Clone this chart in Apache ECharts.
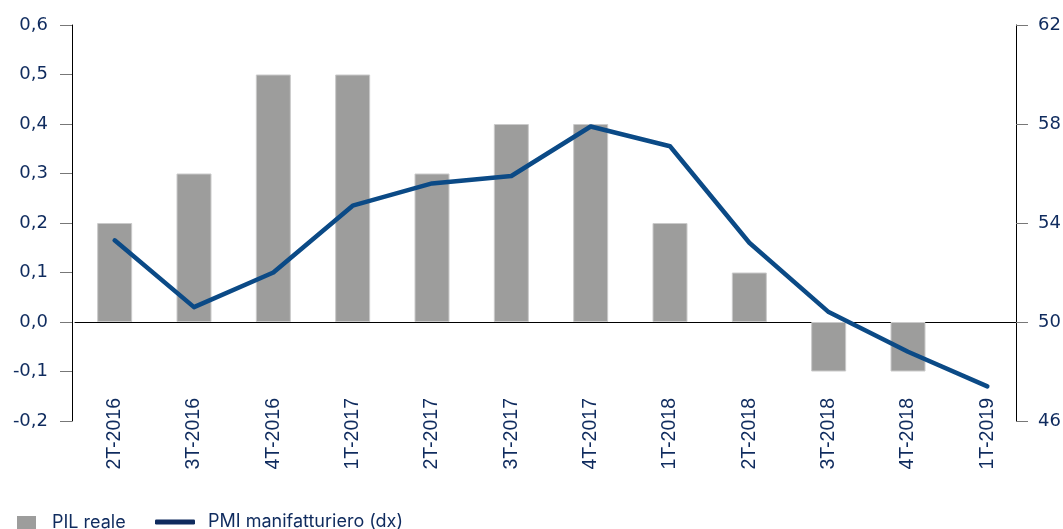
<!DOCTYPE html>
<html>
<head>
<meta charset="utf-8">
<script src="https://cdn.jsdelivr.net/npm/echarts@6/dist/echarts.min.js"></script>
<style>
  html, body { margin: 0; padding: 0; background: #fff; }
  #chart { width: 1063px; height: 529px; }
</style>
</head>
<body>
<div id="chart"></div>
<script>
const categories = ['2T-2016', '3T-2016', '4T-2016', '1T-2017', '2T-2017', '3T-2017',
  '4T-2017', '1T-2018', '2T-2018', '3T-2018', '4T-2018', '1T-2019']
const pilReale = [0.2, 0.3, 0.5, 0.5, 0.3, 0.4, 0.4, 0.2, 0.1, -0.1, -0.1, null]
const pmiManifatturiero = [53.3, 50.6, 52.0, 54.7, 55.6, 55.9, 57.9, 57.1, 53.2, 50.4, 48.8, 47.4]
const leftTicks = { min: -0.2, max: 0.6, interval: 0.1 }
const rightTicks = { min: 46, max: 62, interval: 4 }

const navy = '#0f2b5e'
const lineBlue = '#0b4a86'
const barGrey = '#9d9d9c'

const chart = echarts.init(document.getElementById('chart'))

const option = {
  animation: false,
  grid: { left: 75, right: 36, top: 25, bottom: 108, containLabel: false, outerBoundsMode: 'none' },
  legend: [
    {
      left: 17, top: 513.5, padding: 0,
      itemWidth: 19, itemHeight: 13,
      icon: 'rect',
      textStyle: { color: navy, fontFamily: 'Inter', fontSize: 18, lineHeight: 18, padding: [0, 0, 0, 11] },
      data: [{ name: 'PIL reale', itemStyle: { color: barGrey, borderWidth: 0 } }]
    },
    {
      left: 155, top: 513, padding: 0,
      itemWidth: 40, itemHeight: 5,
      textStyle: { color: navy, fontFamily: 'Inter', fontSize: 18, lineHeight: 18, padding: [0, 0, 0, 8] },
      data: [{ name: 'PMI manifatturiero (dx)', icon: 'roundRect', itemStyle: { color: navy } }]
    }
  ],
  xAxis: {
    type: 'category',
    data: categories,
    axisLine: { onZero: true, lineStyle: { color: '#000', width: 1 } },
    axisTick: { show: false },
    axisLabel: {
      rotate: 90,
      margin: -23,
      interval: 0,
      color: navy,
      fontFamily: 'Liberation Sans',
      fontSize: 19.5
    },
    splitLine: { show: false }
  },
  yAxis: [
    {
      type: 'value',
      position: 'left',
      offset: 3,
      min: leftTicks.min, max: leftTicks.max, interval: leftTicks.interval,
      axisLine: { show: true, lineStyle: { color: '#000', width: 1 } },
      axisTick: { show: true, length: 12, lineStyle: { color: '#777' } },
      axisLabel: {
        margin: 24,
        color: navy,
        fontFamily: 'DejaVu Sans',
        fontSize: 18,
        formatter: v => v.toFixed(1).replace('.', ',')
      },
      splitLine: { show: false }
    },
    {
      type: 'value',
      position: 'right',
      offset: -11,
      min: rightTicks.min, max: rightTicks.max, interval: rightTicks.interval,
      axisLine: { show: true, lineStyle: { color: '#000', width: 1 } },
      axisTick: { show: true, length: 12, lineStyle: { color: '#777' } },
      axisLabel: {
        margin: 22,
        color: navy,
        fontFamily: 'DejaVu Sans',
        fontSize: 18
      },
      splitLine: { show: false }
    }
  ],
  series: [
    {
      name: 'PIL reale',
      type: 'bar',
      yAxisIndex: 0,
      barWidth: 35,
      data: pilReale,
      itemStyle: { color: barGrey, borderColor: '#cacaca', borderWidth: 1 }
    },
    {
      name: 'PMI manifatturiero (dx)',
      type: 'line',
      yAxisIndex: 1,
      data: pmiManifatturiero,
      symbol: 'none',
      lineStyle: { color: lineBlue, width: 4.5, cap: 'round', join: 'round' },
      itemStyle: { color: lineBlue },
      z: 3
    }
  ]
}

chart.setOption(option)
</script>
</body>
</html>
